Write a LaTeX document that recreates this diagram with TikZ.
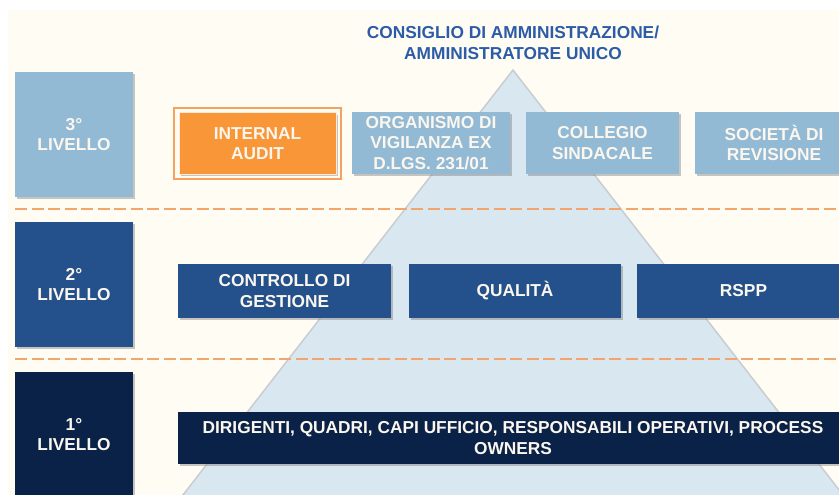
\documentclass[tikz,border=0pt]{standalone}
\usepackage{fontspec}
\setmainfont{Liberation Sans}
\usetikzlibrary{shadows,fit}
\definecolor{cream}{HTML}{FFFDF3}
\definecolor{pyrfill}{HTML}{D9E7F0}
\definecolor{pyredge}{HTML}{C9CDD0}
\definecolor{lightblue}{HTML}{93BAD5}
\definecolor{midblue}{HTML}{24518B}
\definecolor{darkblue}{HTML}{0B2248}
\definecolor{auditorange}{HTML}{F99638}
\definecolor{auditline}{HTML}{F5A160}
\definecolor{sepline}{HTML}{F3A56E}
\definecolor{titleblue}{HTML}{2C5CA8}
\definecolor{boxtext}{HTML}{FBF6EE}
\begin{document}
\begin{tikzpicture}[x=1pt,y=-1pt,
	box/.style={ inner sep=0pt, align=center, text=boxtext, font=\bfseries\fontsize{17.3}{20.5}\selectfont, drop shadow={shadow xshift=1.5pt, shadow yshift=-2pt, fill=black!50, opacity=0.45} },
	boxl/.style={ box, fill=lightblue, minimum height=62pt },
	boxm/.style={ box, fill=midblue, minimum height=54pt },
	boxd/.style={ box, fill=darkblue, minimum height=52pt },
	level/.style={ box, minimum width=118pt, minimum height=125pt },
	sep/.style={ sepline, line width=2pt, dash pattern=on 12pt off 4.5pt }
]

\useasboundingbox (0,0) rectangle (839,495);
\clip (0,0) rectangle (839,495);
\fill[cream] (8,10) rectangle (839,495);
\filldraw[fill=pyrfill, draw=pyredge, line width=1.5pt, line join=round]
  (513,70) -- (864,522) -- (162,522) -- cycle;
\node at (513,43) (cda) [text=titleblue, align=center, inner sep=0pt,
  font=\bfseries\fontsize{17.3}{20.5}\selectfont]
  {CONSIGLIO DI AMMINISTRAZIONE/\\AMMINISTRATORE UNICO};

\draw[sep] (15,209) -- (839,209);
\draw[sep] (15,359) -- (839,359);

\node at (74,134.5) (lv3) [level, fill=lightblue] {3°\\LIVELLO};
\node at (74,284.5) (lv2) [level, fill=midblue] {2°\\LIVELLO};
\node at (74,434.5) (lv1) [level, fill=darkblue] {1°\\LIVELLO};

\node at (257.5,143.5) (audit) [boxl, fill=auditorange, draw=white!80!auditorange, line width=1pt,
  minimum width=157pt, minimum height=61pt] {INTERNAL\\AUDIT};
\node (auditframe) [draw=auditline, line width=1.2pt, fit=(audit), inner sep=4.5pt] {};
\node at (431,143) (odv) [boxl, minimum width=158pt] {ORGANISMO DI\\VIGILANZA EX\\D.LGS. 231/01};
\node at (602.5,143) (cs) [boxl, minimum width=153pt] {COLLEGIO\\SINDACALE};
\node at (774,143) (rev) [boxl, minimum width=158pt] {SOCIETÀ DI\\REVISIONE};

\node at (284.5,291) (cdg) [boxm, minimum width=213pt] {CONTROLLO DI\\GESTIONE};
\node at (515,291) (qual) [boxm, minimum width=212pt] {QUALITÀ};
\node at (743.5,291) (rspp) [boxm, minimum width=213pt] {RSPP};

\node at (513,438) (dir) [boxd, minimum width=670pt]
  {DIRIGENTI, QUADRI, CAPI UFFICIO, RESPONSABILI OPERATIVI, PROCESS\\OWNERS};

\end{tikzpicture}
\end{document}
